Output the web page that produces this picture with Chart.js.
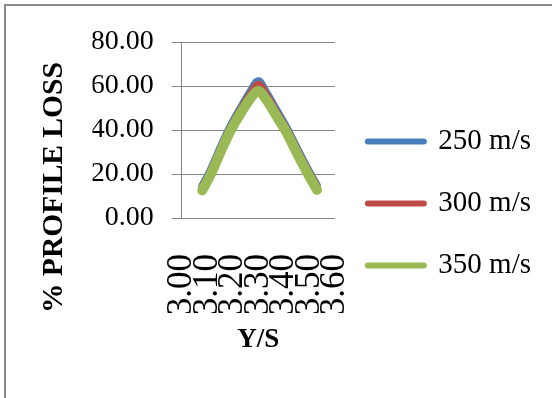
<!DOCTYPE html>
<html>
<head>
<meta charset="utf-8">
<script src="https://cdn.jsdelivr.net/npm/chart.js@4/dist/chart.umd.min.js"></script>
<style>
  html, body { margin: 0; padding: 0; background: #ffffff; overflow: hidden; }
  #frame {
    position: absolute; left: 4px; top: 4px; width: 600px; height: 500px;
    border: 2px solid #8a8a8a; box-sizing: border-box;
  }
  #chart { position: absolute; left: 0; top: 0; }
</style>
</head>
<body>
<div id="frame"></div>
<canvas id="chart" width="552" height="398"></canvas>
<script>
// Y/S positions and % profile loss for three inlet velocities
const yOverS   = [3.08, 3.11, 3.15, 3.19, 3.23, 3.27, 3.30, 3.33, 3.37, 3.41, 3.45, 3.49, 3.53];
const loss250  = [14.5, 21.0, 31.6, 41.6, 49.8, 57.6, 62.2, 57.2, 49.2, 41.2, 32.0, 23.0, 14.7];
const loss300  = [13.6, 20.0, 30.6, 40.6, 48.8, 56.2, 60.6, 55.8, 48.0, 40.2, 31.0, 22.2, 13.8];
const loss350  = [12.6, 19.0, 29.5, 39.5, 47.5, 54.5, 57.8, 54.0, 46.5, 39.0, 29.8, 21.0, 12.8];
const seriesNames = ['250 m/s', '300 m/s', '350 m/s'];
const yTickValues = [0, 20, 40, 60, 80];
const xTickValues = [3.0, 3.1, 3.2, 3.3, 3.4, 3.5, 3.6];

const SERIF = "'Liberation Serif', 'Times New Roman', serif";
const GRID = '#868686';

const toPoints = (vals) => yOverS.map((x, i) => ({ x: x, y: vals[i] }));

function lineSet(label, vals, color, width, order) {
  return {
    label: label,
    data: toPoints(vals),
    borderColor: color,
    backgroundColor: color,
    borderWidth: width,
    borderCapStyle: 'round',
    borderJoinStyle: 'round',
    tension: 0.35,
    pointRadius: 0,
    pointHoverRadius: 0,
    fill: false,
    order: order
  };
}

new Chart(document.getElementById('chart'), {
  type: 'line',
  data: {
    datasets: [
      lineSet(seriesNames[0], loss250, '#4a7ebb', 8, 3),
      lineSet(seriesNames[1], loss300, '#be4b48', 8, 2),
      lineSet(seriesNames[2], loss350, '#98b954', 10, 1)
    ]
  },
  options: {
    responsive: false,
    animation: false,
    layout: { padding: { left: 5, right: 11, top: 42, bottom: 85 } },
    scales: {
      x: {
        type: 'linear',
        min: 3.0,
        max: 3.6,
        afterBuildTicks: (axis) => { axis.ticks = xTickValues.map(v => ({ value: v })); },
        grid: { display: false, drawTicks: false },
        border: { display: false },
        ticks: {
          autoSkip: false,
          minRotation: 90,
          maxRotation: 90,
          padding: 36,
          color: '#000000',
          font: { family: SERIF, size: 35 },
          callback: (v) => Number(v).toFixed(2)
        },
        title: {
          display: true,
          text: 'Y/S',
          color: '#000000',
          font: { family: SERIF, size: 27, weight: 'bold' },
          padding: { top: -27.65, bottom: -43 }
        }
      },
      y: {
        min: 0,
        max: 80,
        afterBuildTicks: (axis) => { axis.ticks = yTickValues.map(v => ({ value: v })); },
        grid: { color: GRID, lineWidth: 1, tickLength: 10, drawTicks: true },
        border: { display: true, color: GRID, width: 1 },
        ticks: {
          autoSkip: false,
          padding: 18,
          color: '#000000',
          font: { family: SERIF, size: 28 },
          callback: (v) => Number(v).toFixed(2)
        }
      }
    },
    plugins: {
      tooltip: { enabled: false },
      title: {
        display: true,
        position: 'left',
        align: 'start',
        text: '% PROFILE LOSS',
        color: '#000000',
        font: { family: SERIF, size: 29.5, weight: 'bold' },
        padding: { top: 32, bottom: 20.1 }
      },
      legend: {
        display: true,
        position: 'right',
        align: 'end',
        maxWidth: 230,
        labels: {
          usePointStyle: true,
          pointStyle: 'line',
          pointStyleWidth: 56,
          padding: 33,
          color: '#000000',
          font: { family: SERIF, size: 29 },
          sort: (a, b) => a.datasetIndex - b.datasetIndex,
          generateLabels: (chart) => {
            const items = Chart.defaults.plugins.legend.labels.generateLabels(chart);
            items.forEach(it => { it.lineWidth = 6; it.lineCap = 'round'; it.pointStyle = 'line'; });
            return items;
          }
        }
      }
    }
  }
});
</script>
</body>
</html>
